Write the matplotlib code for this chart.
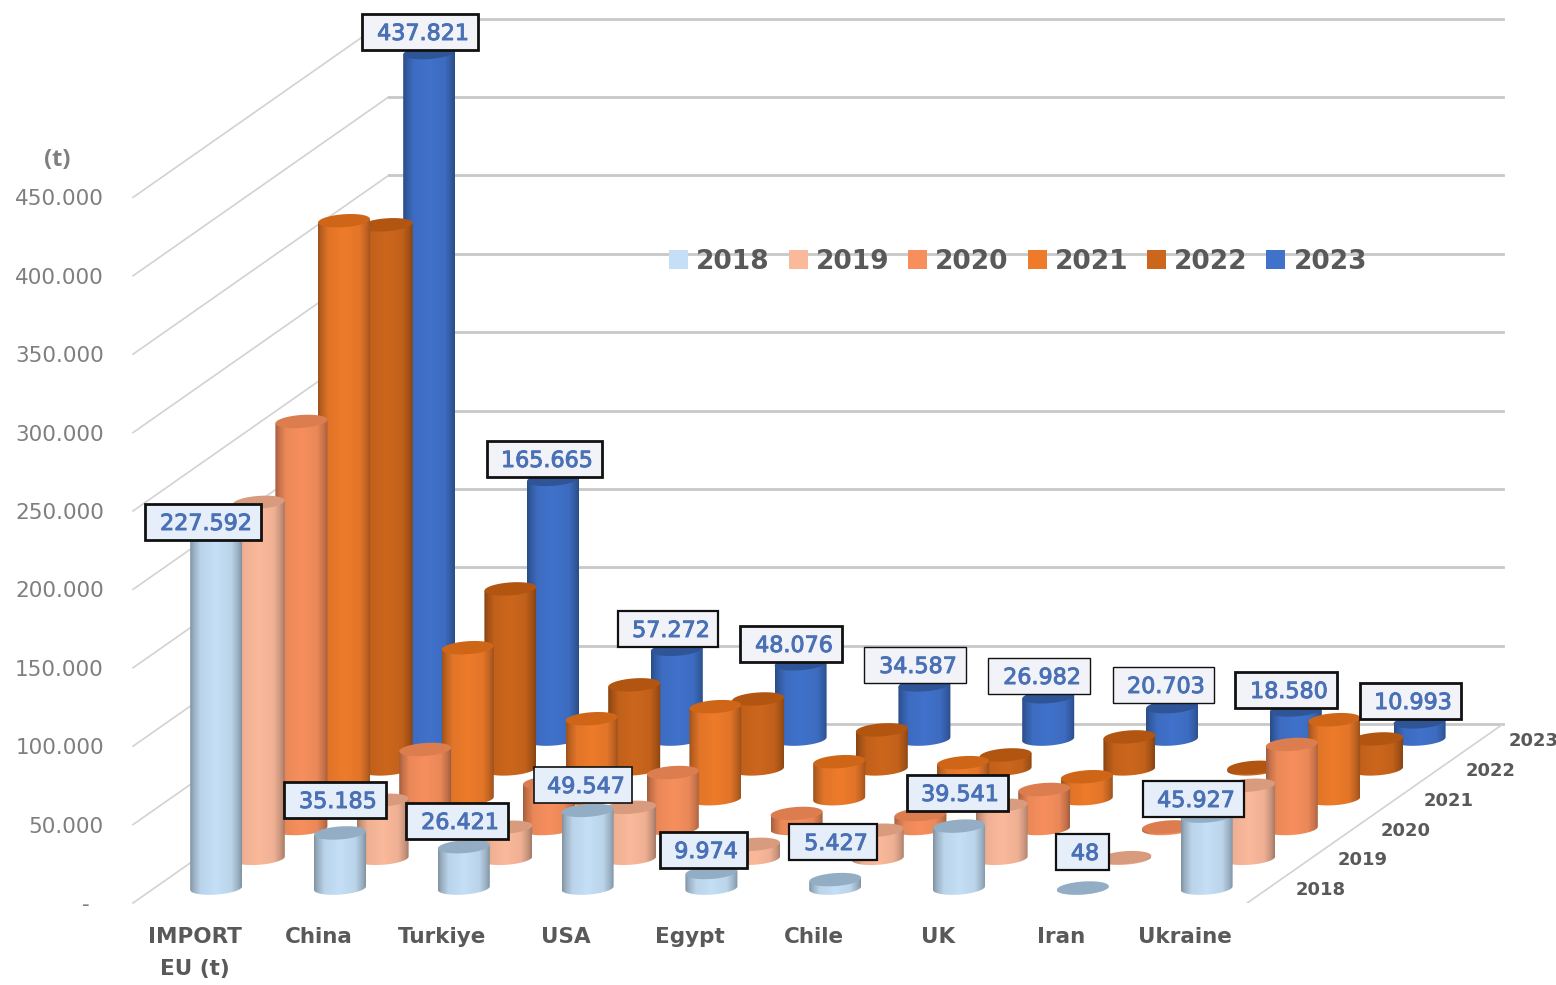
import numpy as np
import matplotlib
matplotlib.use("Agg")
import matplotlib.pyplot as plt
import matplotlib.patheffects as pe
from matplotlib.patches import PathPatch, Rectangle, Patch
from matplotlib.path import Path

categories = ["IMPORT\nEU (t)", "China", "Turkiye", "USA", "Egypt", "Chile", "UK", "Iran", "Ukraine"]
years = ["2018", "2019", "2020", "2021", "2022", "2023"]
v2018 = [227592, 35185, 26421, 49547, 9974, 5427, 39541, 48, 45927]
v2019 = [227000, 37000, 19800, 32500, 8900, 17900, 33800, 400, 46600]
v2020 = [259600, 50400, 29300, 35700, 9600, 8900, 24900, 1000, 53600]
v2021 = [368600, 96300, 51000, 58700, 23600, 23000, 14000, 1000, 50400]
v2022 = [347000, 114800, 53600, 44600, 24900, 8900, 20400, 1000, 19100]
v2023 = [437821, 165665, 57272, 48076, 34587, 26982, 20703, 18580, 10993]
series = [v2018, v2019, v2020, v2021, v2022, v2023]
ytick_values = list(range(0, 450001, 50000))
ytick_labels = ["-  "] + [f"{v:,}".replace(",", ".") for v in ytick_values[1:]]

side_colors = ["#c4dff6", "#fbb99b", "#f78f5d", "#ee7b2a", "#cc661c", "#4072cb"]
top_colors = ["#93adc4", "#d99b7e", "#dc7d50", "#cf6617", "#b25510", "#2f5597"]

# layout (figure pixels)
W, H = 1556, 985
X0, Y0, X1, Y1 = 133, 903, 1503, 18
CAT_PX = 123.8
PX_PER_T = 78.4 / 50000
DEPTH_X, DEPTH_Y = 42.6, 29.8
BAR_A, BAR_B, TILT = 26, 6.5, 1.8

# label boxes for the two labelled series: centre x, centre y, width, edge width
boxes_2018 = [(203, 522, 116, 2.0), (335, 800, 102, 2.0), (457, 821, 102, 2.0), (583, 785, 98, 1.2),
              (703, 850, 87, 2.0), (833, 842, 88, 1.6), (957, 793, 101, 2.0), (1082, 852, 53, 1.6),
              (1193, 799, 101, 1.6)]
boxes_2023 = [(420, 32, 116, 2.0), (544, 459, 115, 2.0), (668, 629, 100, 1.6), (791, 644, 102, 2.0),
              (915, 665, 102, 1.0), (1039, 676, 102, 1.0), (1163, 685, 101, 1.0), (1286, 690, 102, 2.0),
              (1410, 701, 101, 2.0)]

fig = plt.figure(figsize=(W / 100, H / 100), dpi=100, facecolor="white")
ax = fig.add_axes([X0 / W, (H - Y0) / H, (X1 - X0) / W, (Y0 - Y1) / H])
ax.set_facecolor("none")
for s in ax.spines.values():
    s.set_visible(False)

xpx = lambda px: px / CAT_PX            # pixel length -> category units
ypx = lambda px: px / PX_PER_T          # pixel length -> tonnes
fx = lambda px: (px - X0) / CAT_PX      # figure pixel -> data x
fy = lambda px: (Y0 - px) / PX_PER_T    # figure pixel -> data y
dx_d = xpx(DEPTH_X)
dy_d = ypx(DEPTH_Y)
depth_n = 6

# walls
wall_c = "#d2d2d2"
for v in ytick_values:
    ax.plot([0, depth_n * dx_d], [v, v + depth_n * dy_d], color=wall_c, lw=1.2, zorder=1, clip_on=False)
    ax.plot([depth_n * dx_d, fx(X1)], [v + depth_n * dy_d] * 2, color="#c8c8c8", lw=2.0, zorder=1, clip_on=False)
ax.plot([len(categories), len(categories) + depth_n * dx_d], [0, depth_n * dy_d], color=wall_c, lw=1.2, zorder=1)


def shade(hexcol):
    rgb = np.array(matplotlib.colors.to_rgb(hexcol))
    u = np.linspace(0, 1, 64)
    f = np.interp(u, [0, 0.06, 0.2, 0.5, 0.8, 0.94, 1], [0.66, 0.78, 0.95, 1.0, 0.95, 0.78, 0.66])
    return (rgb[None, None, :] * f[None, :, None]).clip(0, 1)


def ell(cx, cy, n=40):
    t = np.linspace(0, 2 * np.pi, n)
    return cx + xpx(BAR_A) * np.cos(t), cy + ypx(BAR_B) * np.sin(t) + ypx(TILT) * np.cos(t)


for k, vals in enumerate(series):
    z = 10 + (len(series) - k) * 3
    img = shade(side_colors[k])
    for i, v in enumerate(vals):
        cx = i + 0.5 + (k + 0.5) * dx_d
        base = (k + 0.5) * dy_d
        top = base + v
        t = np.linspace(np.pi, 2 * np.pi, 30)
        bx = cx + xpx(BAR_A) * np.cos(t)
        by = base + ypx(BAR_B) * np.sin(t) + ypx(TILT) * np.cos(t)
        tt = t[::-1]
        ux = cx + xpx(BAR_A) * np.cos(tt)
        uy = top + ypx(TILT) * np.cos(tt)
        verts = np.vstack([np.column_stack([bx, by]), np.column_stack([ux, uy]), [[bx[0], by[0]]]])
        clip = PathPatch(Path(verts), transform=ax.transData, fc="none", ec="none")
        im = ax.imshow(img, extent=(cx - xpx(BAR_A), cx + xpx(BAR_A), base - ypx(12), top + ypx(12)),
                       aspect="auto", interpolation="bilinear", zorder=z, origin="lower")
        ax.add_patch(clip)
        im.set_clip_path(clip)
        ex, ey = ell(cx, top)
        ax.fill(ex, ey, color=top_colors[k], lw=0, zorder=z + 1, clip_on=False)

# value labels
for vals, bxs, face in [(v2018, boxes_2018, "#e6eff9"), (v2023, boxes_2023, "#f1f3f8")]:
    for v, (bx, by, bw, lw) in zip(vals, bxs):
        ax.add_patch(Rectangle((fx(bx - bw / 2), fy(by + 18)), xpx(bw), ypx(36), fc=face, ec="#111111",
                               lw=lw, zorder=50, clip_on=False))
        txt = f"{v:,}".replace(",", ".")
        ax.text(fx(bx + 3), fy(by), txt, ha="center", va="center_baseline", fontsize=16, color="#4a70b5",
                zorder=51, path_effects=[pe.withStroke(linewidth=0.7, foreground="#4a70b5")])

# axes ticks
ax.set_xlim(0, fx(X1))
ax.set_ylim(0, fy(Y1))
ax.set_yticks(ytick_values, ytick_labels, fontsize=15.5, color="#7f7f7f")
ax.set_xticks([i + 0.5 for i in range(len(categories))], categories, fontsize=15.5, fontweight="bold",
              color="#595959", linespacing=1.75)
ax.tick_params(axis="y", length=0, pad=21)
ax.tick_params(axis="x", length=0, pad=17)

# depth labels
for k, y in enumerate(years):
    ax.text(len(categories) + (k + 0.5) * dx_d + xpx(52), (k + 0.5) * dy_d - ypx(2), y, ha="center", va="center",
            fontsize=13, fontweight="bold", color="#595959", zorder=5)

ax.text(fx(57), fy(160), "(t)", ha="center", va="center", fontsize=17, fontweight="bold", color="#7f7f7f",
        family="Open Sans")

handles = [Patch(facecolor=c, edgecolor="none", label=y) for c, y in zip(side_colors, years)]
ax.legend(handles=handles, ncol=6, frameon=False, loc="center left",
          bbox_to_anchor=((669 - X0) / (X1 - X0), (Y0 - 262) / (Y0 - Y1)), prop={"size": 19, "weight": "bold"},
          labelcolor="#595959", handlelength=0.72, handleheight=0.72, handletextpad=0.3, columnspacing=0.72,
          borderpad=0, borderaxespad=0)

fig.savefig("out.png", dpi=100)
